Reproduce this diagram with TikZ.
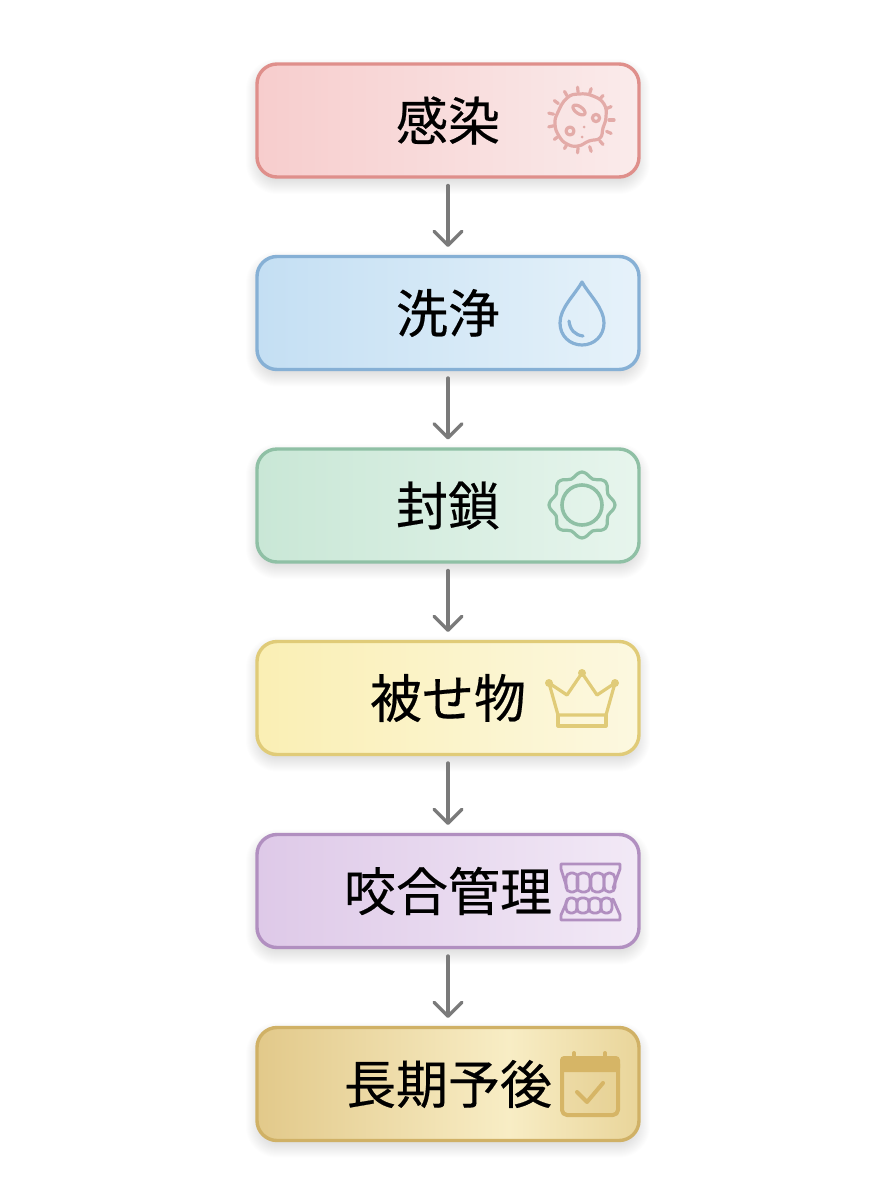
\documentclass[tikz,border=0pt]{standalone}
\usepackage{fontspec}
\setmainfont[FakeBold=0.35]{Noto Sans CJK JP}
\usetikzlibrary{arrows.meta,backgrounds}
\definecolor{redL}{HTML}{F7CDCD}\definecolor{redR}{HTML}{FAEBEB}\definecolor{redB}{HTML}{DF8F8B}\definecolor{redI}{HTML}{E3ABA8}
\definecolor{bluL}{HTML}{C4DFF3}\definecolor{bluR}{HTML}{E6F2FA}\definecolor{bluB}{HTML}{86B0D5}
\definecolor{greL}{HTML}{C9E7D6}\definecolor{greR}{HTML}{E7F5ED}\definecolor{greB}{HTML}{8FC0A5}
\definecolor{yelL}{HTML}{FAEFB4}\definecolor{yelR}{HTML}{FCF8E0}\definecolor{yelB}{HTML}{E0CB78}
\definecolor{purL}{HTML}{DEC9E8}\definecolor{purR}{HTML}{F2E9F6}\definecolor{purB}{HTML}{B18FC0}
\definecolor{golA}{HTML}{E2C98A}\definecolor{golM}{HTML}{F8EDC5}\definecolor{golR}{HTML}{E9D59A}\definecolor{golB}{HTML}{D0B166}\definecolor{golI}{HTML}{D6B566}
\definecolor{arrowgray}{HTML}{7A7A7A}
\pgfdeclarehorizontalshading{goldbar}{100bp}{color(0bp)=(golA); color(25bp)=(golA); color(58bp)=(golM); color(75bp)=(golR); color(100bp)=(golR)}
\tikzset{
  stepbox/.style={minimum width=382pt,minimum height=113pt,inner sep=0pt,outer sep=0pt,rounded corners=20pt,line width=3.4pt,text=black,font=\fontsize{52}{52}\selectfont,align=center},
  flow/.style={draw=arrowgray,line width=3.4pt,line cap=round,shorten <=8.5pt,shorten >=9.5pt,-{Straight Barb[length=14pt,width=28pt,line width=3.4pt,round]}},
  icon/.style={line width=3.2pt,line cap=round,line join=round,fill=none},
}
\newcommand{\softshadow}[1]{%
  \foreach \s in {-6,-5,...,11}{%
    \pgfmathsetmacro{\rc}{max(8,20+\s)}%
    \fill[black,opacity=0.006,rounded corners=\rc pt]
      ([shift={(-\s,\s+6)}]#1.south west) rectangle ([shift={(\s,-\s+6)}]#1.north east);
  }%
}
\begin{document}
\begin{tikzpicture}[x=1pt,y=-1pt]
\useasboundingbox (0,0) rectangle (896,1200);

\node[stepbox,draw=redB,left color=redL,right color=redR] (a) at (448,120.5) {感染};
\node[stepbox,draw=bluB,left color=bluL,right color=bluR] (b) at (448,313) {洗浄};
\node[stepbox,draw=greB,left color=greL,right color=greR] (c) at (448,505.5) {封鎖};
\node[stepbox,draw=yelB,left color=yelL,right color=yelR] (d) at (448,698) {被せ物};
\node[stepbox,draw=purB,left color=purL,right color=purR] (e) at (448,891) {咬合管理};
\node[stepbox,draw=golB,shading=goldbar] (f) at (448,1084) {長期予後};

\begin{scope}[on background layer]
  \fill[white] (0,0) rectangle (896,1200);
  \softshadow{a}\softshadow{b}\softshadow{c}\softshadow{d}\softshadow{e}\softshadow{f}
\end{scope}

\draw[flow] (a) -- (b);
\draw[flow] (b) -- (c);
\draw[flow] (c) -- (d);
\draw[flow] (d) -- (e);
\draw[flow] (e) -- (f);

% microbe
\begin{scope}[icon,draw=redI,shift={(581,120)}]
  \draw plot[smooth cycle,tension=.8] coordinates {(-14,-22)(-2,-26)(12,-24)(23,-16)(25,-3)(22,8)(19,18)(8,21)(-3,26)(-14,24)(-22,16)(-26,4)(-23,-8)};
  \foreach \a in {0,24,...,336}{\draw (\a:28) -- (\a:33);}
  \draw[rotate around={-35:(-2,-10)}] (-2,-10) ellipse (7pt and 3.5pt);
  \draw (15,-2) circle (3.6pt);
  \draw (-11,11) circle (4pt);
  \fill[redI] (3,7) circle (1.5pt) (1,17) circle (1.5pt);
\end{scope}

% drop
\begin{scope}[icon,draw=bluB]
  \draw (582,282) .. controls (574,296) and (560,308) .. (560,323)
    .. controls (560,336) and (570,345) .. (582,345)
    .. controls (594,345) and (604,336) .. (604,323)
    .. controls (604,308) and (590,296) .. (582,282) -- cycle;
  \draw (569,321) .. controls (570,330) and (575,335) .. (583,336);
\end{scope}

% seal
\begin{scope}[icon,draw=greB,shift={(582,505)}]
  \draw plot[smooth cycle,domain=0:352.5,samples=48] (\x:{30.5+2.5*cos(8*\x)});
  \draw[line width=3.6pt] circle (20pt);
\end{scope}

% crown
\begin{scope}[icon,draw=yelB]
  \draw (549,683) -- (558,715) -- (606,715) -- (615,683) -- (597,695) -- (582,673) -- (567,695) -- cycle;
  \draw (558,715) -- (558,726) -- (606,726) -- (606,715);
  \fill[yelB] (549,683) circle (4pt) (582,673) circle (4pt) (615,683) circle (4pt);
\end{scope}

% teeth
\begin{scope}[icon,draw=purB,line width=2.8pt]
  \draw (567,888) -- (561,869) -- (561,864) -- (620,864) -- (620,869) -- (613,888);
  \foreach \xa/\xb in {566/578,577/590,591/604,604/615}{
    \draw[rounded corners=5pt] (\xa,873) rectangle (\xb,892);
  }
  \draw (568,899) -- (561,915) -- (561,920) -- (620,920) -- (620,915) -- (613,899);
  \foreach \xa/\xb in {566/577,577/589,589/601,601/612}{
    \draw[rounded corners=4.5pt] (\xa,898) rectangle (\xb,913);
  }
\end{scope}

% calendar
\begin{scope}[icon,draw=golI,line width=4pt]
  \fill[golI,opacity=.18,rounded corners=5pt] (561,1058) rectangle (619,1116);
  \fill[golI,rounded corners=4pt] (560,1056) -- (620,1056) -- (620,1072) -- (560,1072) -- cycle;
  \draw[rounded corners=5pt] (562,1059) rectangle (618,1115);
  \draw (574,1053) -- (574,1060);
  \draw (605,1053) -- (605,1060);
  \draw (577,1092) -- (587,1102) -- (603,1083);
\end{scope}
\end{tikzpicture}
\end{document}
